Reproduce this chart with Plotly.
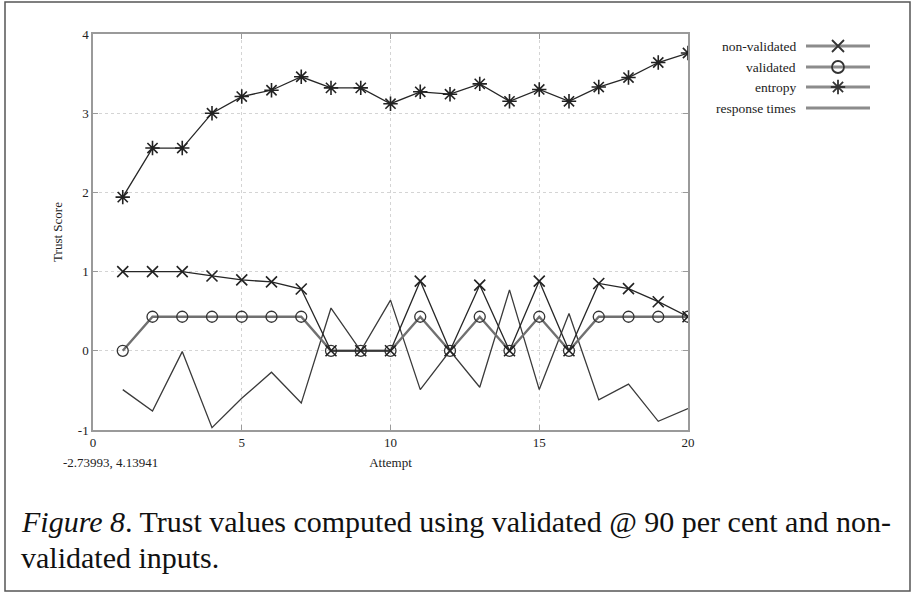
import plotly.graph_objects as go

attempts = list(range(1, 21))
non_validated = [1.00, 1.00, 1.00, 0.945, 0.895, 0.87, 0.78, 0, 0, 0,
                 0.88, 0, 0.83, 0, 0.88, 0, 0.85, 0.785, 0.62, 0.43]
validated = [0, 0.43, 0.43, 0.43, 0.43, 0.43, 0.43, 0, 0, 0,
             0.43, 0, 0.43, 0, 0.43, 0, 0.43, 0.43, 0.43, 0.43]
entropy = [1.94, 2.56, 2.56, 3.00, 3.21, 3.29, 3.46, 3.32, 3.32, 3.12,
           3.27, 3.24, 3.37, 3.15, 3.30, 3.15, 3.33, 3.45, 3.64, 3.76]
response_times = [-0.49, -0.76, -0.01, -0.97, -0.60, -0.27, -0.66, 0.54, 0.0, 0.64,
                  -0.49, 0.0, -0.46, 0.77, -0.49, 0.47, -0.62, -0.42, -0.89, -0.73]

legend_names = ["non-validated", "validated", "entropy", "response times"]
x_ticks = [0, 5, 10, 15, 20]
y_ticks = [-1, 0, 1, 2, 3, 4]
y_tick_labels = ["-1", "0", "1", "2", "3", "4"]

SERIF = "Liberation Serif, Times New Roman, serif"

# figure geometry (pixels)
W, H = 912, 593
ML, MR, MT, MB = 5, 2, 2, 2
PW, PH = W - ML - MR, H - MT - MB


def px_x(p):
    return (p - ML) / PW


def px_y(p):
    return (H - MB - p) / PH


fig = go.Figure()

fig.add_trace(go.Scatter(x=attempts, y=response_times, mode="lines",
                         line=dict(color="#3a3a3a", width=1.3), name=legend_names[3],
                         showlegend=False))
fig.add_trace(go.Scatter(x=attempts, y=validated, mode="lines+markers",
                         line=dict(color="#707070", width=2.4),
                         marker=dict(symbol="circle-open", size=11, color="#333",
                                     line=dict(width=1.3)),
                         name=legend_names[1], showlegend=False))
fig.add_trace(go.Scatter(x=attempts, y=non_validated, mode="lines+markers",
                         line=dict(color="#262626", width=1.3),
                         marker=dict(symbol="x-thin-open", size=11, color="#222",
                                     line=dict(width=1.6)),
                         name=legend_names[0], showlegend=False))
fig.add_trace(go.Scatter(x=attempts, y=entropy, mode="lines+markers",
                         line=dict(color="#262626", width=1.3),
                         marker=dict(symbol="asterisk-open", size=12, color="#222",
                                     line=dict(width=1.6)),
                         name=legend_names[2], showlegend=False))

# legend drawn on a small auxiliary axis
leg_y = [46, 67, 87, 108]
leg_symbols = ["x-thin-open", "circle-open", "asterisk-open", None]
for name, yy, sym in zip(legend_names, leg_y, leg_symbols):
    fig.add_trace(go.Scatter(x=[806, 870], y=[yy, yy], mode="lines",
                             line=dict(color="#8c8c8c", width=3),
                             xaxis="x2", yaxis="y2", showlegend=False, hoverinfo="skip"))
    if sym:
        fig.add_trace(go.Scatter(x=[838], y=[yy], mode="markers",
                                 marker=dict(symbol=sym, size=12, color="#333",
                                             line=dict(width=1.8, color="#333")),
                                 xaxis="x2", yaxis="y2", showlegend=False, hoverinfo="skip"))
    fig.add_annotation(x=px_x(798), y=px_y(yy), xref="paper", yref="paper",
                       text=name, showarrow=False, xanchor="right", yanchor="middle",
                       font=dict(family=SERIF, size=13.5, color="#222"))

axis_common = dict(showline=True, linecolor="#9a9a9a", linewidth=1.5, mirror="ticks",
                   ticks="inside", ticklen=5, tickcolor="#9a9a9a",
                   showgrid=True, gridcolor="#d4d4d4", griddash="dot", gridwidth=1,
                   zeroline=False, automargin=False,
                   tickfont=dict(family=SERIF, size=13, color="#222"))

fig.update_layout(
    width=W, height=H,
    margin=dict(l=ML, r=MR, t=MT, b=MB, autoexpand=False),
    paper_bgcolor="white", plot_bgcolor="white",
    showlegend=False,
    xaxis=dict(domain=[px_x(93), px_x(688)], range=[0, 20], tickvals=x_ticks,
               title=dict(text="Attempt", font=dict(family=SERIF, size=13, color="#222"),
                          standoff=9), anchor="y", **axis_common),
    yaxis=dict(domain=[px_y(430), px_y(34)], range=[-1, 4], tickvals=y_ticks,
               ticktext=y_tick_labels,
               title=dict(text="Trust Score", font=dict(family=SERIF, size=13, color="#222"),
                          standoff=12), anchor="x", **axis_common),
    xaxis2=dict(domain=[px_x(790), px_x(886)], range=[790, 886], visible=False,
                anchor="y2", fixedrange=True),
    yaxis2=dict(domain=[px_y(120), px_y(34)], range=[120, 34], visible=False,
                anchor="x2", fixedrange=True),
)

# outer frame
fig.add_shape(type="rect", xref="paper", yref="paper", x0=0, x1=1, y0=0, y1=1,
              line=dict(color="#555", width=1.5))

fig.add_annotation(x=px_x(110), y=px_y(463), xref="paper", yref="paper",
                   text="-2.73993, 4.13941", showarrow=False, xanchor="center", yanchor="middle",
                   font=dict(family=SERIF, size=13, color="#222"))

fig.add_annotation(x=px_x(19), y=px_y(522), xref="paper", yref="paper",
                   text="<i>Figure 8</i>. Trust values computed using validated @ 90 per cent and non-",
                   showarrow=False, xanchor="left", yanchor="middle",
                   font=dict(family=SERIF, size=30, color="#111"))
fig.add_annotation(x=px_x(19), y=px_y(557), xref="paper", yref="paper",
                   text="validated inputs.",
                   showarrow=False, xanchor="left", yanchor="middle",
                   font=dict(family=SERIF, size=30, color="#111"))

fig.write_html("out.html", config={"displayModeBar": False},
               post_script="document.body.style.margin='0px';"
                           "document.documentElement.style.overflow='hidden';")
